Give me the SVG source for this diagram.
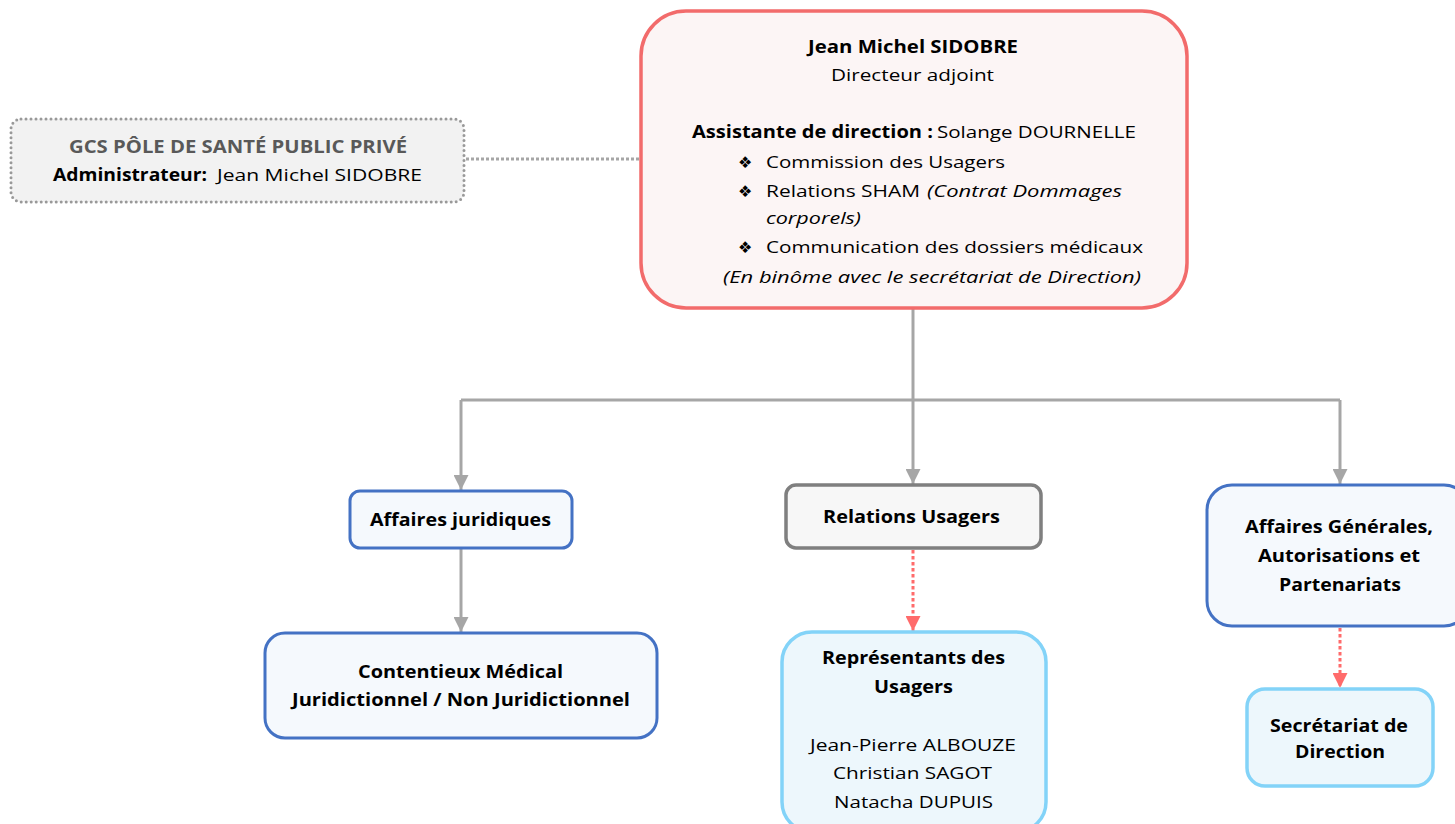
<svg xmlns="http://www.w3.org/2000/svg" width="1455" height="824" viewBox="0 0 1455 824">
<defs>
<style>
text{font-family:"Open Sans","Liberation Sans",sans-serif;font-size:17px;fill:#000}
.b{font-weight:bold}
.i{font-style:italic}
.bul{font-family:"DejaVu Sans",sans-serif;font-size:16px}
.conn{fill:none;stroke:#A6A6A6;stroke-width:3}
.dotr{fill:none;stroke:#FF6B6B;stroke-width:3;stroke-dasharray:3.5 2.5}
.blue{fill:#F5F9FD;stroke:#4472C4;stroke-width:3}
.lblue{fill:#EDF7FC;stroke:#83D3F8;stroke-width:3.5}
</style>
<marker id="ag" viewBox="0 0 10 10" refX="10" refY="5" markerWidth="5" markerHeight="5" markerUnits="strokeWidth" orient="auto"><path d="M0,0L10,5L0,10z" fill="#A6A6A6"/></marker>
<marker id="ar" viewBox="0 0 10 10" refX="10" refY="5" markerWidth="5" markerHeight="5" markerUnits="strokeWidth" orient="auto"><path d="M0,0L10,5L0,10z" fill="#FF6B6B"/></marker>
</defs>
<rect width="1455" height="824" fill="#fff"/>
<g id="connectors">
<path class="conn" d="M913,308V400"/>
<path class="conn" d="M461,400H1340"/>
<path class="conn" d="M461,400V490" marker-end="url(#ag)"/>
<path class="conn" d="M913,400V484" marker-end="url(#ag)"/>
<path class="conn" d="M1340,400V484" marker-end="url(#ag)"/>
<path class="conn" d="M461,548V632" marker-end="url(#ag)"/>
<path class="dotr" d="M913,550V631" marker-end="url(#ar)"/>
<path class="dotr" d="M1340,628V688" marker-end="url(#ar)"/>
<path d="M466,159H641" fill="none" stroke="#A6A6A6" stroke-width="3" stroke-dasharray="3 2"/>
</g>
<g id="gcs">
<rect x="11" y="119" width="453" height="83" rx="10" fill="#F2F2F2" stroke="#999" stroke-width="3" stroke-dasharray="0 5" stroke-linecap="round"/>
<text x="69" y="153" class="b" style="fill:#595959" textLength="338" lengthAdjust="spacingAndGlyphs">GCS PÔLE DE SANTÉ PUBLIC PRIVÉ</text>
<text x="53" y="181" class="b" textLength="154" lengthAdjust="spacingAndGlyphs">Administrateur:</text>
<text x="217" y="181" textLength="205" lengthAdjust="spacingAndGlyphs">Jean Michel SIDOBRE</text>
</g>
<g id="director">
<rect x="641" y="11" width="546" height="297" rx="45" fill="#FCF5F5" stroke="#F26B6B" stroke-width="3.5"/>
<text x="808" y="53" class="b" textLength="210" lengthAdjust="spacingAndGlyphs">Jean Michel SIDOBRE</text>
<text x="831" y="81" textLength="163" lengthAdjust="spacingAndGlyphs">Directeur adjoint</text>
<text x="692" y="138" class="b" textLength="241" lengthAdjust="spacingAndGlyphs">Assistante de direction :</text>
<text x="937" y="138" textLength="199" lengthAdjust="spacingAndGlyphs">Solange DOURNELLE</text>
<text x="738" y="168" class="bul">❖</text>
<text x="766" y="168" textLength="239" lengthAdjust="spacingAndGlyphs">Commission des Usagers</text>
<text x="738" y="197" class="bul">❖</text>
<text x="766" y="197" textLength="154" lengthAdjust="spacingAndGlyphs">Relations SHAM</text>
<text x="927" y="197" class="i" textLength="195" lengthAdjust="spacingAndGlyphs">(Contrat Dommages</text>
<text x="766" y="224" class="i" textLength="95" lengthAdjust="spacingAndGlyphs">corporels)</text>
<text x="738" y="253" class="bul">❖</text>
<text x="766" y="253" textLength="377" lengthAdjust="spacingAndGlyphs">Communication des dossiers médicaux</text>
<text x="723" y="283" class="i" textLength="418" lengthAdjust="spacingAndGlyphs">(En binôme avec le secrétariat de Direction)</text>
</g>
<g id="affaires-juridiques">
<rect x="350" y="491" width="222" height="57" rx="10" class="blue"/>
<text x="370" y="526" class="b" textLength="181" lengthAdjust="spacingAndGlyphs">Affaires juridiques</text>
</g>
<g id="relations-usagers">
<rect x="786" y="485" width="255" height="63" rx="10" fill="#F7F7F7" stroke="#7F7F7F" stroke-width="3.5"/>
<text x="823" y="523" class="b" textLength="177" lengthAdjust="spacingAndGlyphs">Relations Usagers</text>
</g>
<g id="affaires-generales">
<rect x="1207" y="485" width="262" height="141" rx="25" class="blue"/>
<text x="1245" y="533" class="b" textLength="188" lengthAdjust="spacingAndGlyphs">Affaires Générales,</text>
<text x="1258" y="562" class="b" textLength="162" lengthAdjust="spacingAndGlyphs">Autorisations et</text>
<text x="1279" y="591" class="b" textLength="122" lengthAdjust="spacingAndGlyphs">Partenariats</text>
</g>
<g id="contentieux">
<rect x="265" y="633" width="392" height="105" rx="20" class="blue"/>
<text x="358" y="678" class="b" textLength="205" lengthAdjust="spacingAndGlyphs">Contentieux Médical</text>
<text x="292" y="706" class="b" textLength="338" lengthAdjust="spacingAndGlyphs">Juridictionnel / Non Juridictionnel</text>
</g>
<g id="representants">
<rect x="782" y="632" width="264" height="200" rx="30" class="lblue"/>
<text x="822" y="664" class="b" textLength="183" lengthAdjust="spacingAndGlyphs">Représentants des</text>
<text x="874" y="693" class="b" textLength="79" lengthAdjust="spacingAndGlyphs">Usagers</text>
<text x="810" y="751" textLength="206" lengthAdjust="spacingAndGlyphs">Jean-Pierre ALBOUZE</text>
<text x="833" y="779" textLength="159" lengthAdjust="spacingAndGlyphs">Christian SAGOT</text>
<text x="834" y="808" textLength="159" lengthAdjust="spacingAndGlyphs">Natacha DUPUIS</text>
</g>
<g id="secretariat">
<rect x="1247" y="689" width="186" height="97" rx="18" class="lblue"/>
<text x="1270" y="732" class="b" textLength="138" lengthAdjust="spacingAndGlyphs">Secrétariat de</text>
<text x="1295" y="758" class="b" textLength="90" lengthAdjust="spacingAndGlyphs">Direction</text>
</g>
</svg>
